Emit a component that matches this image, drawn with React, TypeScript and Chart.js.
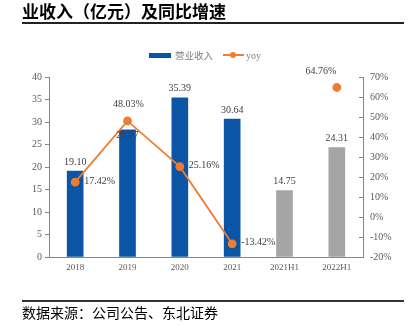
import React, { useEffect, useRef } from "react";
import { Chart, registerables } from "chart.js";

Chart.register(...registerables);

const categories = ["2018", "2019", "2020", "2021", "2021H1", "2022H1"];
const revenue = [19.1, 28.27, 35.39, 30.64, 14.75, 24.31];
const yoy: (number | null)[] = [17.42, 48.03, 25.16, -13.42, null, 64.76];
const leftTicks = [0, 5, 10, 15, 20, 25, 30, 35, 40];
const rightTicks = [-20, -10, 0, 10, 20, 30, 40, 50, 60, 70];

const BLUE = "#0A55A5";
const GREY = "#A5A5A5";
const ORANGE = "#ED7D31";
const AXIS = "#868686";
const TEXT = "#595959";
const LABEL = "#404040";
const SERIF = "'Liberation Serif', 'Times New Roman', serif";
const CJK = "'Noto Sans CJK SC', sans-serif";

const barColors = categories.map((c) => (c.includes("H1") ? GREY : BLUE));
// label placement styles (pixel offsets relative to the mark)
const barLabelDy = [-9, 6, -9, -9, -9, -9];
const lineLabelPlace = ["right", "top", "right", "right", "none", "topLeft"];

const labelPlugin = {
  id: "labels",
  afterDatasetsDraw(chart: any) {
    const ctx = chart.ctx;
    ctx.save();
    ctx.font = `10px ${SERIF}`;
    ctx.fillStyle = LABEL;
    const barMeta = chart.getDatasetMeta(1);
    barMeta.data.forEach((el: any, i: number) => {
      ctx.textAlign = "center";
      ctx.textBaseline = "middle";
      ctx.fillText(revenue[i].toFixed(2), el.x, el.y + barLabelDy[i]);
    });
    const lineMeta = chart.getDatasetMeta(0);
    lineMeta.data.forEach((el: any, i: number) => {
      const v = yoy[i];
      if (v === null) return;
      const t = v.toFixed(2) + "%";
      const p = lineLabelPlace[i];
      ctx.textBaseline = "middle";
      if (p === "right") {
        ctx.textAlign = "left";
        ctx.fillText(t, el.x + 9, el.y - 1);
      } else if (p === "top") {
        ctx.textAlign = "center";
        ctx.fillText(t, el.x + 1, el.y - 17);
      } else if (p === "topLeft") {
        ctx.textAlign = "center";
        ctx.fillText(t, el.x - 16, el.y - 16);
      }
    });
    // inward tick marks on the right axis
    const y1 = chart.scales.y1;
    ctx.strokeStyle = AXIS;
    ctx.lineWidth = 1;
    y1.ticks.forEach((tk: any) => {
      const py = Math.round(y1.getPixelForValue(tk.value)) + 0.5;
      ctx.beginPath();
      ctx.moveTo(y1.left, py);
      ctx.lineTo(y1.left - 4, py);
      ctx.stroke();
    });
    ctx.restore();
  },
};

export default function App() {
  const ref = useRef<HTMLCanvasElement>(null);
  useEffect(() => {
    const chart = new Chart(ref.current!, {
      type: "bar",
      data: {
        labels: categories,
        datasets: [
          {
            type: "line",
            label: "yoy",
            data: yoy,
            yAxisID: "y1",
            borderColor: ORANGE,
            backgroundColor: ORANGE,
            borderWidth: 1.8,
            pointRadius: 3.5,
            pointBackgroundColor: ORANGE,
            pointBorderColor: ORANGE,
            spanGaps: false,
            order: 0,
          } as any,
          {
            type: "bar",
            label: "营业收入",
            data: revenue,
            yAxisID: "y",
            backgroundColor: barColors,
            barThickness: 16,
            order: 1,
          },
        ],
      },
      options: {
        animation: false,
        responsive: false,
        maintainAspectRatio: false,
        layout: { padding: { top: 77, bottom: 45, left: 0, right: 0 } },
        plugins: { legend: { display: false }, tooltip: { enabled: false } },
        scales: {
          x: {
            grid: { display: false, drawTicks: false },
            border: { display: true, color: AXIS },
            ticks: { color: TEXT, font: { family: SERIF, size: 9 }, padding: 5 },
            afterFit: (s: any) => {
              s.height = 24;
            },
          },
          y: {
            position: "left",
            min: 0,
            max: 40,
            afterBuildTicks: (s: any) => {
              s.ticks = leftTicks.map((v) => ({ value: v }));
            },
            grid: { drawOnChartArea: false, drawTicks: true, tickLength: 4, color: AXIS },
            border: { display: true, color: AXIS },
            ticks: { color: TEXT, font: { family: SERIF, size: 10 }, padding: 3 },
            afterFit: (s: any) => {
              s.width = 49;
            },
          },
          y1: {
            position: "right",
            min: -20,
            max: 70,
            afterBuildTicks: (s: any) => {
              s.ticks = rightTicks.map((v) => ({ value: v }));
            },
            grid: { drawOnChartArea: false, drawTicks: false },
            border: { display: true, color: AXIS },
            ticks: {
              color: TEXT,
              font: { family: SERIF, size: 10 },
              padding: 7,
              callback: (v: any) => v + "%",
            },
            afterFit: (s: any) => {
              s.width = 49;
            },
          },
        },
      },
      plugins: [labelPlugin],
    });
    return () => chart.destroy();
  }, []);

  return (
    <div
      style={{
        position: "fixed",
        left: 0,
        top: 0,
        width: 412,
        height: 326,
        background: "#fff",
        overflow: "hidden",
      }}
    >
      <canvas ref={ref} width={412} height={326} style={{ position: "absolute", left: 0, top: 0 }} />
      <div
        style={{
          position: "absolute",
          left: 22,
          top: 0,
          height: 21,
          lineHeight: "21px",
          fontFamily: CJK,
          fontWeight: 700,
          fontSize: 17,
          color: "#000",
          whiteSpace: "nowrap",
        }}
      >
        业收入（亿元）及同比增速
      </div>
      <div style={{ position: "absolute", left: 22, top: 22, width: 382, height: 1.5, background: "#222" }} />
      <div
        style={{
          position: "absolute",
          left: 0,
          top: 48,
          width: 412,
          display: "flex",
          alignItems: "center",
          justifyContent: "center",
          height: 14,
          gap: 0,
        }}
      >
        <div style={{ display: "flex", alignItems: "center", marginLeft: -2 }}>
          <span style={{ display: "inline-block", width: 22, height: 5, background: BLUE, marginRight: 4 }} />
          <span style={{ fontFamily: CJK, fontSize: 9.5, color: "#7F7F7F" }}>营业收入</span>
          <span style={{ position: "relative", display: "inline-block", width: 21, height: 10, marginLeft: 10, marginRight: 2 }}>
            <span style={{ position: "absolute", left: 0, top: 4, width: 21, height: 2, background: ORANGE }} />
            <span
              style={{
                position: "absolute",
                left: 7,
                top: 2,
                width: 6,
                height: 6,
                borderRadius: 3,
                background: ORANGE,
              }}
            />
          </span>
          <span style={{ fontFamily: SERIF, fontSize: 10, color: "#7F7F7F" }}>yoy</span>
        </div>
      </div>
      <div style={{ position: "absolute", left: 22, top: 300, width: 382, height: 1.5, background: "#333" }} />
      <div
        style={{
          position: "absolute",
          left: 22,
          top: 304,
          lineHeight: "16px",
          fontFamily: CJK,
          fontSize: 14,
          color: "#000",
          whiteSpace: "nowrap",
        }}
      >
        数据来源：公司公告、东北证券
      </div>
    </div>
  );
}
